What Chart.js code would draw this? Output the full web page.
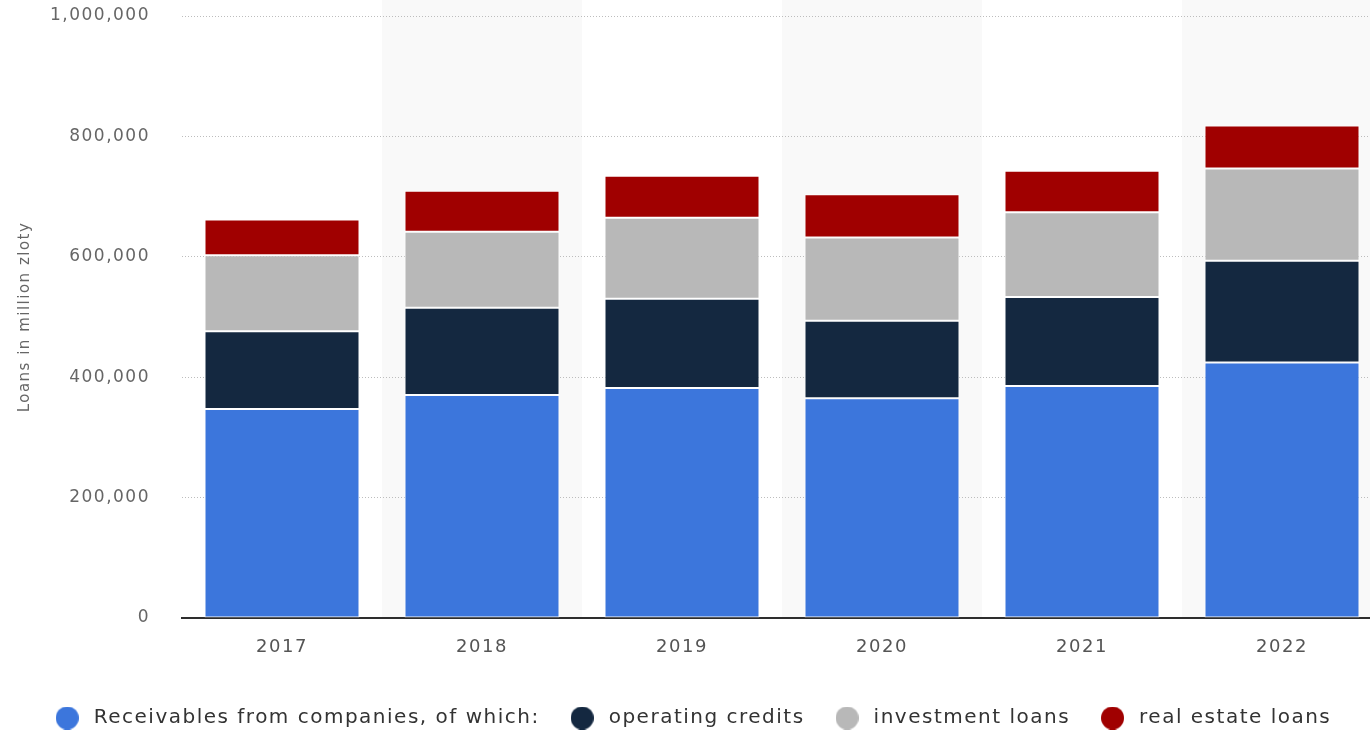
<!DOCTYPE html>
<html>
<head>
<meta charset="utf-8">
<script src="https://cdn.jsdelivr.net/npm/chart.js@4"></script>
<style>
  html, body { margin: 0; padding: 0; background: #fff; overflow: hidden; }
  #wrap { width: 1385px; height: 738px; }
</style>
</head>
<body>
<div id="wrap"><canvas id="chart"></canvas></div>
<script>
const years = ['2017', '2018', '2019', '2020', '2021', '2022'];
const receivables = [347000, 370500, 382200, 365000, 385500, 424500];
const operatingCredits = [129500, 145000, 148300, 128800, 147800, 168800];
const investmentLoans = [126000, 126000, 134500, 138300, 140500, 153300];
const realEstateLoans = [59500, 68300, 69500, 71700, 69000, 71700];
const yTicks = [0, 200000, 400000, 600000, 800000, 1000000];
const colors = ['#3c76dc', '#142840', '#b8b8b8', '#a00000'];

// round legend marker
function dot(color) {
  const c = document.createElement('canvas');
  c.width = 23;
  c.height = 23;
  const g = c.getContext('2d');
  g.fillStyle = color;
  g.beginPath();
  g.arc(11.5, 11.5, 11.5, 0, Math.PI * 2);
  g.fill();
  return c;
}

// grey bands behind every second year
const bands = {
  id: 'bands',
  beforeDraw(chart) {
    const { ctx, chartArea, scales } = chart;
    const step = scales.x.getPixelForValue(1) - scales.x.getPixelForValue(0);
    ctx.save();
    ctx.fillStyle = '#f9f9f9';
    years.forEach((y, i) => {
      if (i % 2 === 1) {
        const c = scales.x.getPixelForValue(i);
        ctx.fillRect(c - step / 2, 0, step, chartArea.bottom);
      }
    });
    ctx.restore();
  }
};

// letter spacing for all text
const spacing = {
  id: 'spacing',
  beforeUpdate(chart) { chart.ctx.letterSpacing = '1.5px'; },
  beforeDraw(chart) { chart.ctx.letterSpacing = '1.5px'; }
};

const ctx = document.getElementById('chart').getContext('2d');
new Chart(ctx, {
  type: 'bar',
  plugins: [bands, spacing],
  data: {
    labels: years,
    datasets: [
      { label: 'Receivables from companies, of which:', data: receivables, backgroundColor: colors[0] },
      { label: 'operating credits', data: operatingCredits, backgroundColor: colors[1] },
      { label: 'investment loans', data: investmentLoans, backgroundColor: colors[2] },
      { label: 'real estate loans', data: realEstateLoans, backgroundColor: colors[3] }
    ]
  },
  options: {
    responsive: true,
    maintainAspectRatio: false,
    animation: false,
    datasets: {
      bar: {
        categoryPercentage: 1,
        barPercentage: 0.775,
        borderColor: 'rgba(255,255,255,0.85)',
        borderWidth: 1,
        borderSkipped: false
      }
    },
    layout: { padding: { top: 16, right: 3, left: 0, bottom: 0 } },
    plugins: {
      tooltip: { enabled: false },
      legend: {
        position: 'bottom',
        labels: {
          usePointStyle: true,
          boxHeight: 16,
          pointStyleWidth: 33,
          padding: 26,
          color: '#333',
          font: { family: 'DejaVu Sans', size: 20 },
          generateLabels(chart) {
            return Chart.defaults.plugins.legend.labels.generateLabels(chart).map((l, i) => {
              l.pointStyle = dot(colors[i]);
              return l;
            });
          }
        }
      }
    },
    scales: {
      x: {
        stacked: true,
        grid: { display: false, drawTicks: false },
        border: { display: true, color: '#2e2e2e', width: 2 },
        ticks: { color: '#555', padding: 19, font: { family: 'DejaVu Sans', size: 18 } },
        afterFit(scale) { scale.height = 64; }
      },
      y: {
        stacked: true,
        min: 0,
        max: 1000000,
        afterBuildTicks(scale) { scale.ticks = yTicks.map(v => ({ value: v })); },
        grid: { color: '#bdbdbd', lineWidth: 1, drawTicks: false },
        border: { display: false, dash: [1, 2] },
        ticks: {
          color: '#666',
          padding: 32,
          font: { family: 'DejaVu Sans', size: 17 },
          callback: v => v.toLocaleString('en-US')
        },
        title: {
          display: true,
          text: 'Loans in million zloty',
          color: '#666',
          padding: { top: 16, bottom: 0 },
          font: { family: 'DejaVu Sans', size: 15 }
        },
        afterFit(scale) {
          scale.width = 182;
          scale.paddingTop = 0;
          scale.paddingBottom = 0;
        }
      }
    }
  }
});
</script>
</body>
</html>
